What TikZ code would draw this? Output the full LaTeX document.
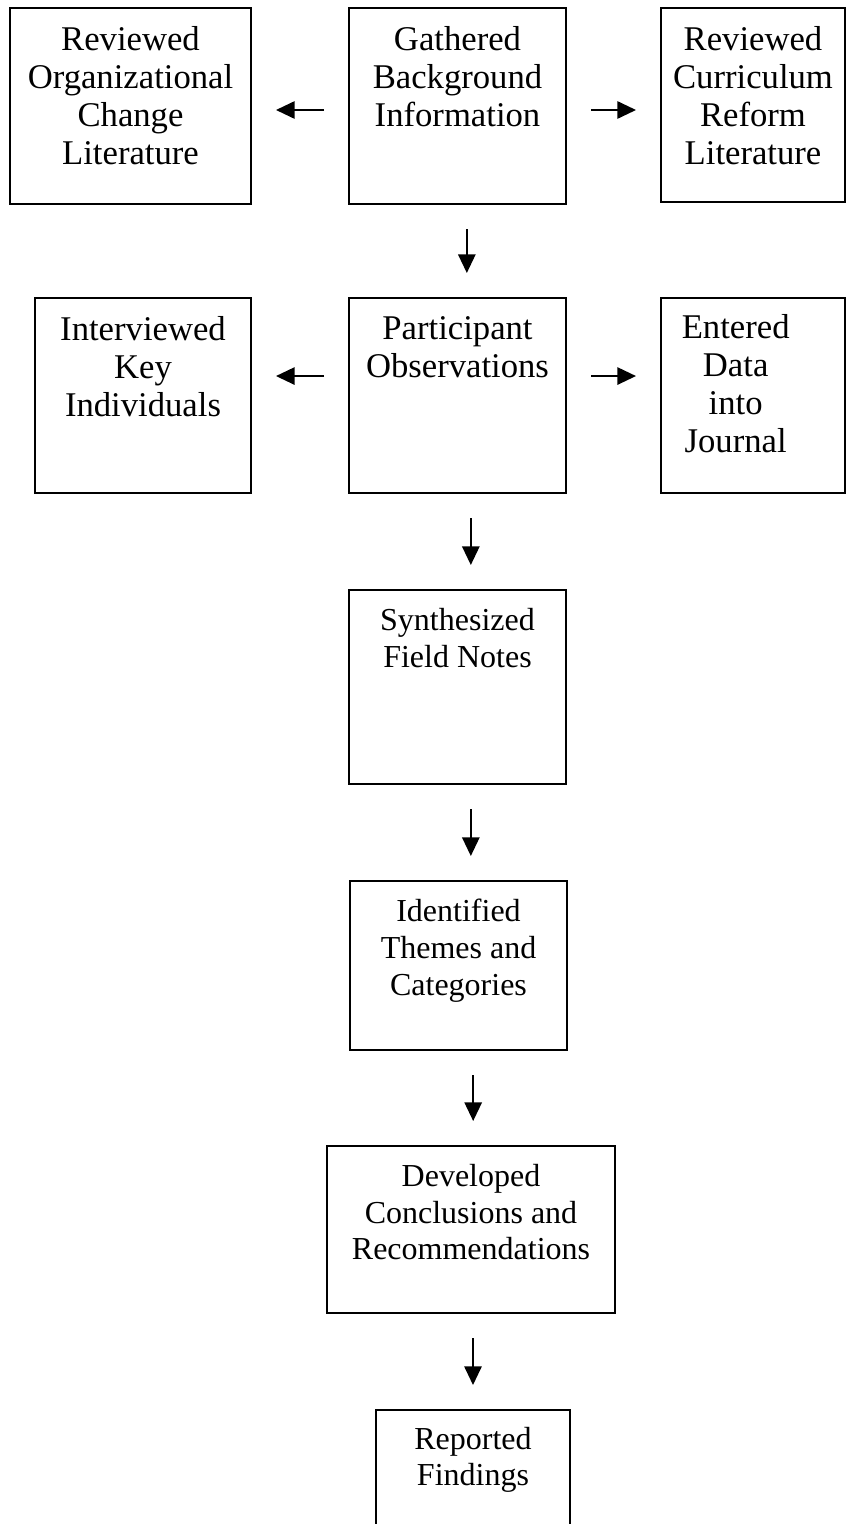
\documentclass[tikz,border=0pt]{standalone}
\usepackage{fontspec}
\setmainfont{Liberation Serif}
\usetikzlibrary{arrows.meta}

\tikzset{every picture/.style={line width=0.75pt}}
\tikzset{
  stepbox/.style={draw, line width=1.5pt, inner sep=0pt},
  boxtext/.style={anchor=north, align=center, inner sep=0pt, font=\fontsize{26}{28.5}\selectfont},
  boxtextsm/.style={boxtext, font=\fontsize{24}{27.5}\selectfont},
  flow/.style={line width=1.4pt, -{Triangle[length=14pt,width=13pt]}, shorten <=18pt, shorten >=18pt}
}

\begin{document}
\begin{tikzpicture}[x=0.75pt,y=0.75pt,yscale=-1,xscale=1]

\clip (0,0) rectangle (846,1524);

\node [stepbox, minimum width=180.75pt, minimum height=147pt] (orglit) at (130.5,106) {};
\node [stepbox, minimum width=162.75pt, minimum height=147pt] (gather) at (457.5,106) {};
\node [stepbox, minimum width=138pt, minimum height=145.5pt] (curlit) at (753,105) {};

\node [stepbox, minimum width=162pt, minimum height=146.25pt] (interview) at (143,395.5) {};
\node [stepbox, minimum width=162.75pt, minimum height=146.25pt] (particip) at (457.5,395.5) {};
\node [stepbox, minimum width=138pt, minimum height=146.25pt] (journal) at (753,395.5) {};

\node [stepbox, minimum width=162.75pt, minimum height=145.5pt] (synth) at (457.5,687) {};
\node [stepbox, minimum width=162.75pt, minimum height=126.75pt] (themes) at (458.5,965.5) {};
\node [stepbox, minimum width=216pt, minimum height=125.25pt] (concl) at (471,1229.5) {};
\node [stepbox, minimum width=145.5pt, minimum height=120pt] (report) at (473,1490) {};

\node [boxtext] (orglit-t) at ([yshift=14pt]orglit.north) {Reviewed\\Organizational\\Change\\Literature};
\node [boxtext] (gather-t) at ([yshift=14pt]gather.north) {Gathered\\Background\\Information};
\node [boxtext] (curlit-t) at ([yshift=14pt]curlit.north) {Reviewed\\Curriculum\\Reform\\Literature};

\node [boxtext] (interview-t) at ([yshift=14pt]interview.north) {Interviewed\\Key\\Individuals};
\node [boxtext] (particip-t) at ([yshift=14pt]particip.north) {Participant\\Observations};
\node [boxtext] (journal-t) at ([xshift=-13pt,yshift=13pt]journal.north) {Entered\\Data\\into\\Journal};

\node [boxtextsm] (synth-t) at ([yshift=14pt]synth.north) {Synthesized\\Field Notes};
\node [boxtextsm] (themes-t) at ([yshift=14pt]themes.north) {Identified\\Themes and\\Categories};
\node [boxtextsm] (concl-t) at ([yshift=14pt]concl.north) {Developed\\Conclusions and\\Recommendations};
\node [boxtextsm] (report-t) at ([yshift=13pt]report.north) {Reported\\Findings};

\draw [flow] ([yshift=3pt]gather.west) -- ([yshift=3pt]gather.west -| orglit.east);
\draw [flow] ([yshift=3pt]gather.east) -- ([yshift=3pt]gather.east -| curlit.west);
\draw [flow] ([yshift=-14.6pt]particip.west) -- ([yshift=-14.6pt]particip.west -| interview.east);
\draw [flow] ([yshift=-14.6pt]particip.east) -- ([yshift=-14.6pt]particip.east -| journal.west);

\draw [flow] ([xshift=7pt]gather.south) -- ([xshift=7pt]gather.south |- particip.north);
\draw [flow] ([xshift=10pt]particip.south) -- ([xshift=10pt]particip.south |- synth.north);
\draw [flow] ([xshift=10pt]synth.south) -- ([xshift=10pt]synth.south |- themes.north);
\draw [flow] ([xshift=11pt]themes.south) -- ([xshift=11pt]themes.south |- concl.north);
\draw [flow] ([xshift=1.5pt]concl.south) -- ([xshift=1.5pt]concl.south |- report.north);

\end{tikzpicture}
\end{document}
